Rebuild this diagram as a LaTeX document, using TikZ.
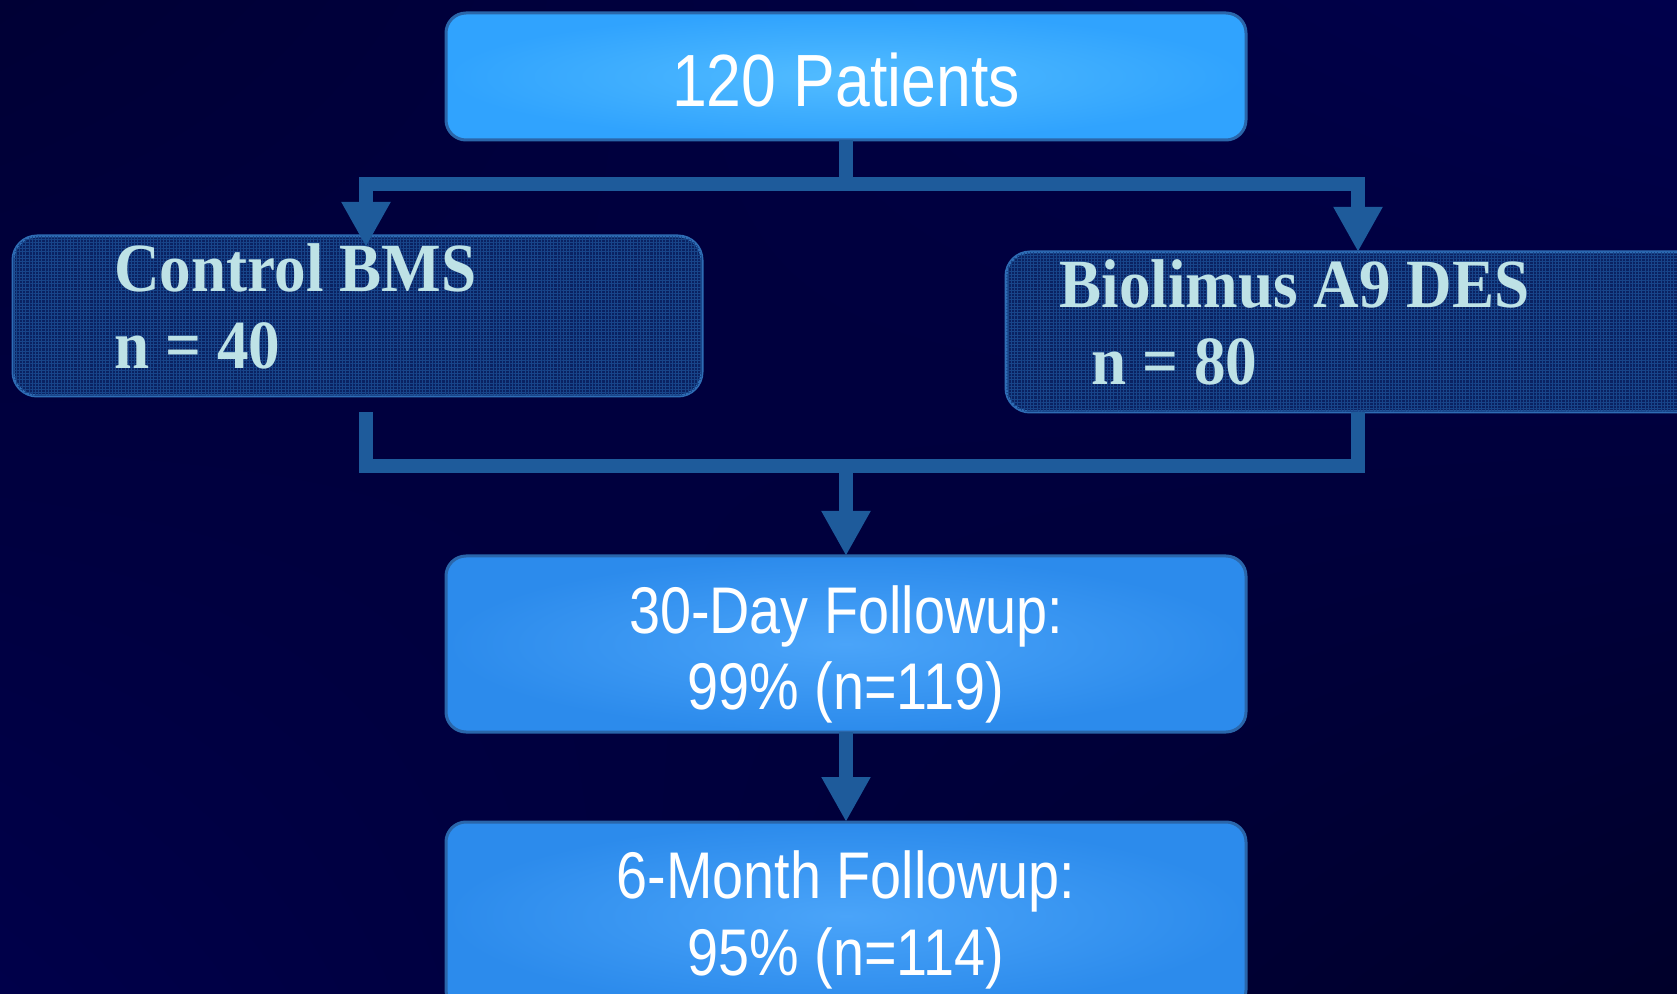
\documentclass[tikz,border=0pt]{standalone}
\usepackage{fontspec}
\usetikzlibrary{arrows.meta,shadings,patterns.meta}
\newfontfamily\condsans[FakeStretch=0.845]{Liberation Sans}
\newfontfamily\condserif[FakeStretch=0.915]{Liberation Serif}
\definecolor{bgUL}{HTML}{000035}
\definecolor{bgUR}{HTML}{00004C}
\definecolor{bgLL}{HTML}{00004A}
\definecolor{bgLR}{HTML}{00002A}
\definecolor{connc}{HTML}{1E5B9B}
\definecolor{topin}{HTML}{52BCFF}
\definecolor{topout}{HTML}{30A3FE}
\definecolor{lowin}{HTML}{4AA4F9}
\definecolor{lowout}{HTML}{2C8BEC}
\definecolor{boxedge}{HTML}{2A66AA}
\definecolor{darkfill}{HTML}{0A2262}
\definecolor{gridc}{HTML}{18458A}
\definecolor{darkedge}{HTML}{2E6CB4}
\definecolor{paletext}{HTML}{BEE2E6}
\tikzset{
  conn/.style={draw=connc, line width=7pt},
  tip/.tip={Triangle[length=22.5pt, width=23pt]},
  topbox/.style={draw=boxedge, line width=1.5pt, rounded corners=10pt, inner sep=0pt, outer sep=0pt, inner color=topin, outer color=topout},
  lowbox/.style={draw=boxedge, line width=1.5pt, rounded corners=10pt, inner sep=0pt, outer sep=0pt, inner color=lowin, outer color=lowout},
  darkbox/.style={draw=darkedge, fill=darkfill, line width=1.5pt, rounded corners=12pt, inner sep=0pt, outer sep=0pt,
    postaction={pattern={Hatch[distance=1.6pt, angle=0, line width=0.2pt]}, pattern color=gridc}},
  sanstext/.style={text=white, inner sep=0pt, anchor=base, font=\condsans\fontsize{#1}{#1}\selectfont},
  serftext/.style={text=paletext, inner sep=0pt, anchor=base west, font=\condserif\bfseries\fontsize{34.5}{36}\selectfont}
}
\begin{document}
\begin{tikzpicture}[x=0.5pt, y=-0.5pt]
\useasboundingbox (0,0) rectangle (1677,994);
\shade[upper left=bgUL, upper right=bgUR, lower left=bgLL, lower right=bgLR] (0,0) rectangle (1677,994);

% boxes
\node[topbox, minimum width=400pt, minimum height=63.5pt] (top) at (846,76.5) {};
\node[darkbox, minimum width=344.5pt, minimum height=80pt] (ctrl) at (357.5,316) {};
\node[darkbox, minimum width=357pt, minimum height=80pt] (bio) at (1363,332) {};
\node[lowbox, minimum width=400pt, minimum height=88pt] (fu30) at (846,644) {};
\node[lowbox, minimum width=400pt, minimum height=94pt] (fu6) at (846,916) {};

% texts
\node[sanstext=37] (ttop) at (846,107) {120 Patients};
\node[serftext] (tctrl1) at (114,292) {Control BMS};
\node[serftext] (tctrl2) at (114,369) {n = 40};
\node[serftext] (tbio1) at (1059,308) {Biolimus A9 DES};
\node[serftext] (tbio2) at (1091,385) {n = 80};
\node[sanstext=33] (t301) at (846,633) {30-Day Followup:};
\node[sanstext=33] (t302) at (846,709) {99\% (n=119)};
\node[sanstext=33] (t61) at (846,898) {6-Month Followup:};
\node[sanstext=33] (t62) at (846,975) {95\% (n=114)};

% connector points
\coordinate (split) at (846,184);
\coordinate (ctip) at (366,247);
\coordinate (btip) at (1358,252);
\coordinate (cbot) at (366,412);
\coordinate (bbot) at (1358,412);
\coordinate (merge) at (846,466);

\draw[conn] (top.south) -- (split);
\draw[conn, tip-tip] (ctip) |- (split) -| (btip);
\draw[conn] (cbot) |- (merge) -| (bbot);
\draw[conn, -tip] (merge) -- (fu30.north);
\draw[conn, -tip] (fu30.south) -- (fu6.north);
\end{tikzpicture}
\end{document}
